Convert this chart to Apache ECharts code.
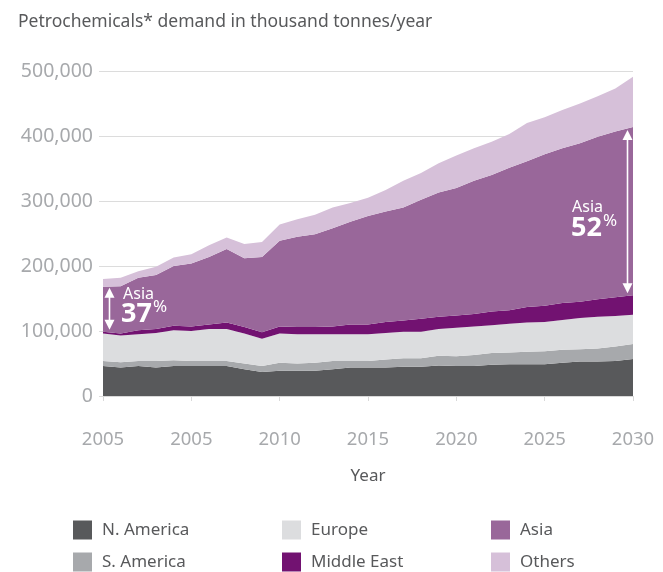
<!DOCTYPE html>
<html>
<head>
<meta charset="utf-8">
<script src="https://cdn.jsdelivr.net/npm/echarts@6/dist/echarts.min.js"></script>
<style>
html,body{margin:0;padding:0;background:#fff;}
#chart{width:663px;height:572px;}
</style>
</head>
<body>
<div id="chart"></div>
<script>
// ---- Data (thousand tonnes/year) ----
const years = ['2000','2001','2002','2003','2004','2005','2006','2007','2008','2009','2010','2011','2012','2013','2014','2015','2016','2017','2018','2019','2020','2021','2022','2023','2024','2025','2026','2027','2028','2029','2030'];
const nAmerica   = [46000,44000,46000,44000,46000,46000,46000,46000,41000,37000,39000,39000,39000,41000,44000,44000,44000,45000,45000,47000,46000,46000,48000,49000,49000,49000,51000,53000,53000,54000,57000];
const sAmerica   = [8000,8000,8000,10000,9000,8000,8000,8000,9000,9000,12000,11000,12000,13000,10000,10000,12000,13000,13000,15000,15000,17000,18000,18000,19000,20000,20000,19000,20000,22000,23000];
const europe     = [42000,41000,41000,43000,46000,46000,49000,49000,46000,42000,45000,45000,44000,41000,41000,41000,41000,41000,41000,41000,44000,44000,43000,44000,45000,45000,46000,48000,49000,47000,45000];
const middleEast = [3000,3000,6000,6000,7000,7000,7000,10000,10000,10000,11000,11000,11000,12000,15000,15000,17000,17000,20000,19000,19000,19000,21000,21000,24000,25000,26000,25000,27000,29000,30000];
const asia       = [69000,73000,81000,83000,92000,97000,104000,113000,106000,116000,132000,139000,143000,151000,158000,167000,170000,174000,183000,191000,196000,205000,210000,219000,224000,233000,238000,244000,250000,255000,259000];
const others     = [12000,13000,10000,13000,13000,14000,18000,18000,22000,23000,25000,27000,30000,32000,29000,28000,33000,41000,41000,45000,50000,50000,51000,52000,59000,57000,59000,61000,62000,66000,77000];
const xTickLabels = ['2005','2005','2010','2015','2020','2025','2030'];
const yTickLabels = ['0','100,000','200,000','300,000','400,000','500,000'];
const seriesNames = ['N. America','S. America','Europe','Middle East','Asia','Others'];
const legendOrder = ['N. America','Europe','Asia','S. America','Middle East','Others'];
const asiaShareStart = '37';
const asiaShareEnd = '52';

const colors = {
  'N. America':'#58595b',
  'S. America':'#a7a9ac',
  'Europe':'#dcdddf',
  'Middle East':'#721271',
  'Asia':'#99679a',
  'Others':'#d6c0d9'
};
const FONT = 'Noto Sans';
const valuesByName = {
  'N. America': nAmerica, 'S. America': sAmerica, 'Europe': europe,
  'Middle East': middleEast, 'Asia': asia, 'Others': others
};

function cumBelowAsia(i){ return nAmerica[i]+sAmerica[i]+europe[i]+middleEast[i]; }
const iFirst = 0, iLast = years.length-1;
const asiaLoStart = cumBelowAsia(iFirst), asiaHiStart = asiaLoStart + asia[iFirst];
const asiaLoEnd = cumBelowAsia(iLast), asiaHiEnd = asiaLoEnd + asia[iLast];

const series = seriesNames.map(name => ({
  name: name,
  type: 'line',
  stack: 'total',
  data: valuesByName[name],
  showSymbol: false,
  symbol: 'none',
  lineStyle: { width: 0 },
  itemStyle: { color: colors[name] },
  areaStyle: { color: colors[name], opacity: 1 },
  emphasis: { disabled: true },
  silent: true,
  z: 2
}));

const chart = echarts.init(document.getElementById('chart'), null, { renderer: 'canvas' });
const baseOption = {
  animation: false,
  backgroundColor: '#ffffff',
  title: {
    text: 'Petrochemicals* demand in thousand tonnes/year',
    left: 13, top: 8,
    textStyle: { color: '#58595b', fontSize: 17.5, fontWeight: 'normal', fontFamily: FONT }
  },
  legend: {
    data: legendOrder.map(n => ({ name: n, icon: 'rect' })),
    orient: 'horizontal',
    left: 73, top: 514, width: 640,
    padding: 0,
    itemGap: 0,
    itemWidth: 19, itemHeight: 19,
    selectedMode: false,
    textStyle: { color: '#58595b', fontSize: 17, fontFamily: FONT, width: 180, lineHeight: 32, padding: [0,0,0,5] }
  },
  grid: { left: 103, right: 30, top: 71, bottom: 176, containLabel: false, outerBoundsMode: 'none' },
  xAxis: {
    type: 'category',
    data: years,
    boundaryGap: false,
    name: 'Year',
    nameLocation: 'middle',
    nameGap: 72,
    nameTextStyle: { color: '#58595b', fontSize: 17, fontFamily: FONT },
    axisLine: { show: true, lineStyle: { color: '#d9d9d9', width: 1 } },
    axisTick: { show: true, length: 5, interval: 4, lineStyle: { color: '#d9d9d9' } },
    splitLine: { show: false },
    axisLabel: {
      margin: 34,
      interval: 4,
      color: '#a7a9ac', fontSize: 18.5, fontFamily: FONT,
      formatter: (v, idx) => xTickLabels[Math.round(idx / 5)] || ''
    }
  },
  yAxis: {
    type: 'value',
    min: 0, max: 500000, interval: 100000,
    axisLine: { show: false },
    axisTick: { show: true, length: 4, lineStyle: { color: '#dcdcdc' } },
    splitLine: { show: true, lineStyle: { color: '#dcdcdc', width: 1 } },
    axisLabel: {
      margin: 10,
      color: '#a7a9ac', fontSize: 19.5, fontFamily: FONT,
      formatter: v => yTickLabels[Math.round(v / 100000)]
    }
  },
  series: series
};
chart.setOption(baseOption);

// ---- Annotations: white double-headed arrows spanning the Asia band ----
function arrowElements(x, yTop, yBot) {
  const head = 5, hl = 10;
  return [
    { type: 'line', z: 10, silent: true,
      shape: { x1: x, y1: yTop + hl - 1, x2: x, y2: yBot - hl + 1 },
      style: { stroke: '#ffffff', lineWidth: 1.6 } },
    { type: 'polygon', z: 10, silent: true,
      shape: { points: [[x, yTop], [x - head, yTop + hl], [x + head, yTop + hl]] },
      style: { fill: '#ffffff' } },
    { type: 'polygon', z: 10, silent: true,
      shape: { points: [[x, yBot], [x - head, yBot - hl], [x + head, yBot - hl]] },
      style: { fill: '#ffffff' } }
  ];
}
const pTopStart = chart.convertToPixel({ gridIndex: 0 }, [iFirst, asiaHiStart]);
const pBotStart = chart.convertToPixel({ gridIndex: 0 }, [iFirst, asiaLoStart]);
const pTopEnd = chart.convertToPixel({ gridIndex: 0 }, [iLast, asiaHiEnd]);
const pBotEnd = chart.convertToPixel({ gridIndex: 0 }, [iLast, asiaLoEnd]);

const rich = {
  b: { fill: '#ffffff', fontSize: 27, fontWeight: 'bold', fontFamily: FONT, lineHeight: 30 },
  c: { fill: '#ffffff', fontSize: 17, fontFamily: FONT, verticalAlign: 'top', lineHeight: 30, padding: [0,0,11,1] }
};
const graphics = []
  .concat(arrowElements(pTopStart[0] + 6.5, pTopStart[1] + 1, pBotStart[1] - 2))
  .concat(arrowElements(pTopEnd[0] - 5.5, pTopEnd[1] + 3, pBotEnd[1] - 2))
  .concat([
    { type: 'text', left: 123, top: 286, z: 10, silent: true,
      style: { text: 'Asia', fill: '#ffffff', font: '16px "Noto Sans"' } },
    { type: 'text', left: 121, top: 299, z: 10, silent: true,
      style: { text: '{b|' + asiaShareStart + '}{c|%}', rich: rich } },
    { type: 'text', left: 572, top: 199, z: 10, silent: true,
      style: { text: 'Asia', fill: '#ffffff', font: '16px "Noto Sans"' } },
    { type: 'text', left: 571, top: 213, z: 10, silent: true,
      style: { text: '{b|' + asiaShareEnd + '}{c|%}', rich: rich } }
  ]);
chart.setOption({ graphic: graphics });
</script>
</body>
</html>
